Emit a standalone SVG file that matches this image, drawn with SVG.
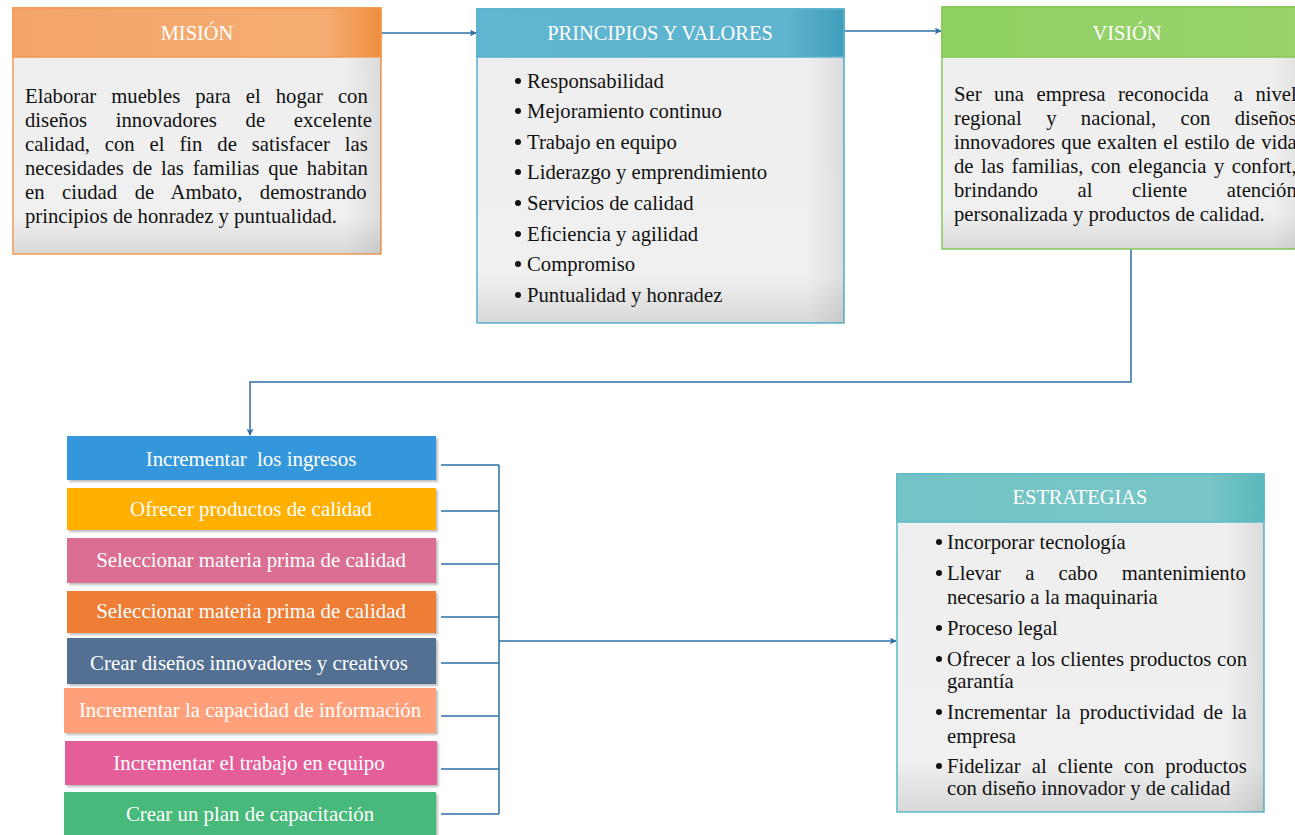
<svg xmlns="http://www.w3.org/2000/svg" width="1295" height="835" viewBox="0 0 1295 835">
<defs>
<style>
.t{font-family:"Liberation Serif","Times New Roman",serif;fill:#111;font-size:20.7px}
.h{font-family:"Liberation Serif","Times New Roman",serif;fill:#fff;font-size:20.4px;text-anchor:middle}
.w{font-family:"Liberation Serif","Times New Roman",serif;fill:#fff;font-size:20.9px;text-anchor:middle}
.c{fill:none;stroke:#2E6FA6;stroke-width:1.5}
.body{fill:url(#gb)}
.shade{fill:url(#gr)}
.dot{fill:#111}
</style>
<linearGradient id="gb" x1="0" y1="0" x2="0" y2="1">
<stop offset="0" stop-color="#EEEEEE"/>
<stop offset="0.85" stop-color="#F0F0F0"/>
<stop offset="1" stop-color="#D8D8D8"/>
</linearGradient>
<linearGradient id="gr" x1="0" y1="0" x2="1" y2="0">
<stop offset="0" stop-color="#000" stop-opacity="0"/>
<stop offset="0.9" stop-color="#000" stop-opacity="0"/>
<stop offset="1" stop-color="#000" stop-opacity="0.08"/>
</linearGradient>
<linearGradient id="go" x1="0" y1="0" x2="1" y2="0">
<stop offset="0" stop-color="#F4A56A"/>
<stop offset="0.85" stop-color="#F5AD73"/>
<stop offset="1" stop-color="#EF8E3E"/>
</linearGradient>
<linearGradient id="gbl" x1="0" y1="0" x2="1" y2="0">
<stop offset="0" stop-color="#60B6D0"/>
<stop offset="0.85" stop-color="#5EB3CE"/>
<stop offset="1" stop-color="#3F9EBB"/>
</linearGradient>
<linearGradient id="gg" x1="0" y1="0" x2="1" y2="0">
<stop offset="0" stop-color="#8FD062"/>
<stop offset="1" stop-color="#99D46E"/>
</linearGradient>
<linearGradient id="gt" x1="0" y1="0" x2="1" y2="0">
<stop offset="0" stop-color="#73C4C6"/>
<stop offset="0.85" stop-color="#78C6C7"/>
<stop offset="1" stop-color="#5BB8BA"/>
</linearGradient>
<marker id="ar" viewBox="0 0 10 10" refX="9" refY="5" markerWidth="7" markerHeight="7" orient="auto" markerUnits="userSpaceOnUse">
<path d="M0,0 L10,5 L0,10 L2.5,5 z" fill="#2E6FA6"/>
</marker>
<filter id="sh" x="-5%" y="-10%" width="115%" height="130%">
<feDropShadow dx="2" dy="2" stdDeviation="1.2" flood-color="#000" flood-opacity="0.25"/>
</filter>
</defs>
<rect width="1295" height="835" fill="#fff"/>

<g id="connectors">
<line class="c" x1="381" y1="33" x2="476" y2="33" marker-end="url(#ar)"/>
<line class="c" x1="844" y1="31" x2="941" y2="31" marker-end="url(#ar)"/>
<polyline class="c" points="1131,249 1131,382 250,382 250,435" marker-end="url(#ar)"/>
<path class="c" d="M441,465 H499 M441,511 H499 M441,564 H499 M441,617 H499 M441,663 H499 M441,716 H499 M441,769 H499 M441,814 H499 M499,465 V814"/>
<line class="c" x1="499" y1="641" x2="896" y2="641" marker-end="url(#ar)"/>
</g>

<g id="mision">
<rect x="13" y="8" width="368" height="246" class="body" stroke="#F39A50" stroke-width="1.5"/>
<rect x="13" y="8" width="368" height="246" class="shade"/>
<rect x="13" y="8" width="368" height="49" fill="url(#go)" stroke="#F39A50" stroke-width="1.5"/>
<text class="h" x="197" y="40">MISIÓN</text>
<text class="t" x="25" y="103" word-spacing="9.85">Elaborar muebles para el hogar con</text>
<text class="t" x="25" y="127" word-spacing="23.54">diseños innovadores de excelente</text>
<text class="t" x="25" y="151" word-spacing="9.74">calidad, con el fin de satisfacer las</text>
<text class="t" x="25" y="175" word-spacing="3.64">necesidades de las familias que habitan</text>
<text class="t" x="25" y="199" word-spacing="12.31">en ciudad de Ambato, demostrando</text>
<text class="t" x="25" y="223">principios de honradez y puntualidad.</text>
</g>

<g id="principios">
<rect x="477" y="9" width="367" height="314" class="body" stroke="#5AB1CE" stroke-width="1.5"/>
<rect x="477" y="9" width="367" height="314" class="shade"/>
<rect x="477" y="9" width="367" height="48" fill="url(#gbl)" stroke="#5AB1CE" stroke-width="1.5"/>
<text class="h" x="660" y="40">PRINCIPIOS Y VALORES</text>
<g class="dot">
<circle cx="518" cy="81" r="3"/><circle cx="518" cy="111" r="3"/><circle cx="518" cy="142" r="3"/><circle cx="518" cy="172" r="3"/>
<circle cx="518" cy="203" r="3"/><circle cx="518" cy="234" r="3"/><circle cx="518" cy="264" r="3"/><circle cx="518" cy="295" r="3"/>
</g>
<g class="t">
<text x="527" y="88">Responsabilidad</text>
<text x="527" y="118">Mejoramiento continuo</text>
<text x="527" y="149">Trabajo en equipo</text>
<text x="527" y="179">Liderazgo y emprendimiento</text>
<text x="527" y="210">Servicios de calidad</text>
<text x="527" y="241">Eficiencia y agilidad</text>
<text x="527" y="271">Compromiso</text>
<text x="527" y="302">Puntualidad y honradez</text>
</g>
</g>

<g id="vision">
<rect x="942" y="7" width="368" height="242" class="body" stroke="#84C855" stroke-width="1.5"/>
<rect x="942" y="7" width="368" height="242" class="shade"/>
<rect x="942" y="7" width="368" height="50" fill="url(#gg)" stroke="#84C855" stroke-width="1.5"/>
<text class="h" x="1127" y="40">VISIÓN</text>
<text class="t" x="954" y="101" word-spacing="7.35" xml:space="preserve">Ser una empresa reconocida  a nivel</text>
<text class="t" x="954" y="125" word-spacing="19.2">regional y nacional, con diseños</text>
<text class="t" x="954" y="149" word-spacing="1.02">innovadores que exalten el estilo de vida</text>
<text class="t" x="954" y="173" word-spacing="2.36">de las familias, con elegancia y confort,</text>
<text class="t" x="954" y="197" word-spacing="34.42">brindando al cliente atención</text>
<text class="t" x="954" y="221">personalizada y productos de calidad.</text>
</g>

<g id="obj1"><rect x="67" y="436" width="369" height="44" fill="#3597DB" filter="url(#sh)"/><text class="w" x="251" y="466" xml:space="preserve">Incrementar  los ingresos</text></g>
<g id="obj2"><rect x="67" y="488" width="369" height="42" fill="#FFB000" filter="url(#sh)"/><text class="w" x="251" y="516">Ofrecer productos de calidad</text></g>
<g id="obj3"><rect x="67" y="538" width="369" height="45" fill="#DB6E93" filter="url(#sh)"/><text class="w" x="251" y="567">Seleccionar materia prima de calidad</text></g>
<g id="obj4"><rect x="67" y="591" width="369" height="42" fill="#EE7D34" filter="url(#sh)"/><text class="w" x="251" y="618">Seleccionar materia prima de calidad</text></g>
<g id="obj5"><rect x="67" y="638" width="369" height="46" fill="#527092" filter="url(#sh)"/><text class="w" x="249" y="670">Crear diseños innovadores y creativos</text></g>
<g id="obj6"><rect x="64" y="688" width="372" height="45" fill="#FFA07A" filter="url(#sh)"/><text class="w" x="250" y="717">Incrementar la capacidad de información</text></g>
<g id="obj7"><rect x="65" y="741" width="372" height="44" fill="#E45F9A" filter="url(#sh)"/><text class="w" x="249" y="770">Incrementar el trabajo en equipo</text></g>
<g id="obj8"><rect x="64" y="792" width="372" height="45" fill="#46B97A" filter="url(#sh)"/><text class="w" x="250" y="821">Crear un plan de capacitación</text></g>

<g id="estrategias">
<rect x="897" y="474" width="367" height="338" class="body" stroke="#5CBBC5" stroke-width="1.5"/>
<rect x="897" y="474" width="367" height="338" class="shade"/>
<rect x="897" y="474" width="367" height="48" fill="url(#gt)" stroke="#5CBBC5" stroke-width="1.5"/>
<text class="h" x="1080" y="504">ESTRATEGIAS</text>
<g class="dot">
<circle cx="939" cy="542" r="3"/><circle cx="939" cy="573" r="3"/><circle cx="939" cy="628" r="3"/>
<circle cx="939" cy="659" r="3"/><circle cx="939" cy="712" r="3"/><circle cx="939" cy="766" r="3"/>
</g>
<g class="t">
<text x="947" y="549">Incorporar tecnología</text>
<text x="947" y="580" word-spacing="18.99">Llevar a cabo mantenimiento</text>
<text x="947" y="604">necesario a la maquinaria</text>
<text x="947" y="635">Proceso legal</text>
<text x="947" y="666" word-spacing="0.6">Ofrecer a los clientes productos con</text>
<text x="947" y="688">garantía</text>
<text x="947" y="719" word-spacing="3.7">Incrementar la productividad de la</text>
<text x="947" y="743">empresa</text>
<text x="947" y="773" word-spacing="6">Fidelizar al cliente con productos</text>
<text x="947" y="795">con diseño innovador y de calidad</text>
</g>
</g>
</svg>
